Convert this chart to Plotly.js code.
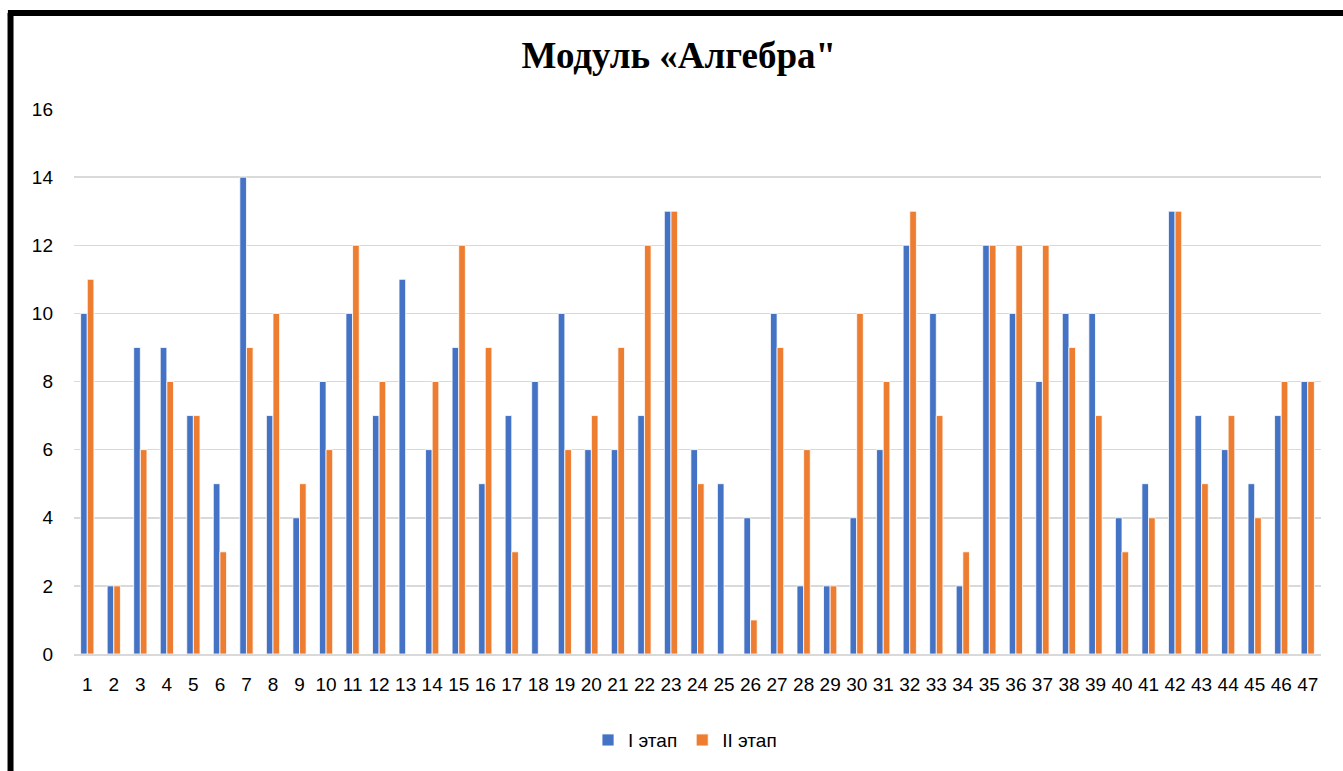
<!DOCTYPE html>
<html>
<head>
<meta charset="utf-8">
<script src="https://cdn.plot.ly/plotly-3.0.1.min.js"></script>
<style>
html,body{margin:0;padding:0;background:#fff;}
#chart{width:1343px;height:771px;}
</style>
</head>
<body>
<div id="chart"></div>
<script>
const categories = ["1","2","3","4","5","6","7","8","9","10","11","12","13","14","15","16","17","18","19","20","21","22","23","24","25","26","27","28","29","30","31","32","33","34","35","36","37","38","39","40","41","42","43","44","45","46","47"];
const stage1 = [10,2,9,9,7,5,14,7,4,8,10,7,11,6,9,5,7,8,10,6,6,7,13,6,5,4,10,2,2,4,6,12,10,2,12,10,8,10,10,4,5,13,7,6,5,7,8];
const stage2 = [11,2,6,8,7,3,9,10,5,6,12,8,0,8,12,9,3,0,6,7,9,12,13,5,0,1,9,6,2,10,8,13,7,3,12,12,12,9,7,3,4,13,5,7,4,8,8];
const seriesNames = ["I этап","II этап"];
const yTicks = [0,2,4,6,8,10,12,14,16];

const font = "Liberation Sans, Arial, sans-serif";
const traces = [
  {type:"bar", name:seriesNames[0], x:categories, y:stage1,
   marker:{color:"#4472C4", line:{color:"#ffffff", width:0.8}}},
  {type:"bar", name:seriesNames[1], x:categories, y:stage2,
   marker:{color:"#ED7D31", line:{color:"#ffffff", width:0.8}}}
];

const layout = {
  width:1343, height:771,
  paper_bgcolor:"#ffffff", plot_bgcolor:"#ffffff",
  margin:{l:74, r:22, t:109, b:117},
  barmode:"group", bargap:0.5, bargroupgap:0,
  title:{text:"<b>Модуль «Алгебра\"</b>", x:0.485, xanchor:"center", y:0.928, yanchor:"middle",
         xref:"paper", font:{family:"Liberation Serif, Times New Roman, serif", size:37, color:"#000"}},
  xaxis:{type:"category", tickangle:0, showgrid:false, zeroline:false,
         showline:true, linecolor:"#D9D9D9", linewidth:1.5, ticks:"",
         tickfont:{family:font, size:19, color:"#000"}, ticklabelstandoff:13, automargin:false},
  yaxis:{range:[0,16], tickvals:yTicks, showgrid:true, gridcolor:"#D9D9D9", gridwidth:1.5,
         zeroline:false, showline:false, ticks:"",
         tickfont:{family:font, size:19, color:"#000"}, ticklabelstandoff:20, automargin:false},
  showlegend:true,
  legend:{orientation:"h", x:0.49, xanchor:"center", y:-0.158, yanchor:"middle",
          font:{family:font, size:19, color:"#000"}, itemwidth:30, traceorder:"normal"},
  shapes:[
    {type:"line", xref:"paper", yref:"paper", x0:-0.0509, x1:-0.0509, y0:1.176, y1:-0.3,
     line:{color:"#000", width:6}},
    {type:"line", xref:"paper", yref:"paper", x0:-0.053, x1:1.05, y0:1.176, y1:1.176,
     line:{color:"#000", width:6}}
  ]
};
Plotly.newPlot("chart", traces, layout, {displayModeBar:false, staticPlot:true});
</script>
</body>
</html>
